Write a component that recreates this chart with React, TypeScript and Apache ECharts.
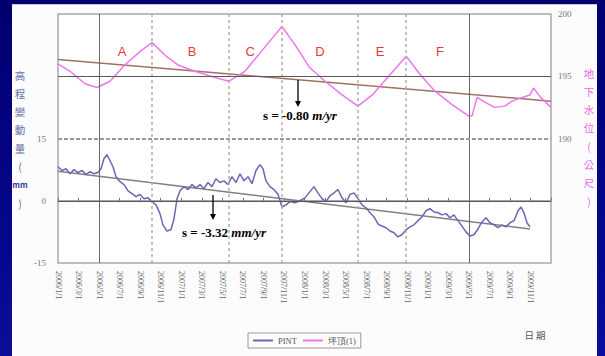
import React, { useEffect, useRef } from 'react';
import * as echarts from 'echarts';

const xLabels = [
  '2006/1/1', '2006/3/1', '2006/5/1', '2006/7/1', '2006/9/1', '2006/11/1',
  '2007/1/1', '2007/3/1', '2007/5/1', '2007/7/1', '2007/9/1', '2007/11/1',
  '2008/1/1', '2008/3/1', '2008/5/1', '2008/7/1', '2008/9/1', '2008/11/1',
  '2009/1/1', '2009/3/1', '2009/5/1', '2009/7/1', '2009/9/1', '2009/11/1',
];

// x = months since 2006/1
const pintData: [number, number][] = [
  [0, 8.2], [0.39, 7.3], [0.78, 7.7], [1.17, 6.5], [1.56, 7.5], [1.95, 6.8], [2.34, 7.3], [2.73, 6.3],
  [3.12, 7.0], [3.5, 6.5], [3.89, 6.8], [4.19, 7.7], [4.48, 10.2], [4.77, 11.1], [5.06, 9.7], [5.35, 8.2],
  [5.65, 5.8], [6.04, 4.6], [6.43, 3.9], [6.82, 2.4], [7.2, 1.7], [7.59, 1.0], [7.98, 1.5], [8.37, 0.5],
  [8.76, 0.7], [9.15, -0.2], [9.54, -1.0], [9.93, -3.1], [10.22, -5.8], [10.61, -7.3], [11.0, -7.0], [11.29, -4.4],
  [11.59, 0.5], [11.88, 2.4], [12.27, 3.4], [12.66, 2.7], [13.05, 3.9], [13.44, 3.1], [13.83, 3.9], [14.21, 2.9],
  [14.6, 4.4], [14.99, 3.4], [15.38, 5.3], [15.77, 4.4], [16.16, 4.8], [16.55, 3.9], [16.94, 5.8], [17.33, 4.4],
  [17.72, 6.5], [18.11, 4.8], [18.5, 5.8], [18.89, 4.1], [19.28, 7.3], [19.67, 8.7], [19.96, 7.7], [20.25, 4.8],
  [20.64, 3.4], [21.03, 2.7], [21.42, 1.5], [21.81, -1.5], [22.2, -1.0], [22.59, -0.2], [23.07, -0.5], [23.56, 0],
  [24.05, 0.7], [24.53, 2.2], [24.92, 3.4], [25.31, 1.9], [25.7, 0.5], [26.09, -0.2], [26.48, 1.2], [26.87, 1.9],
  [27.26, 2.7], [27.65, 0.7], [28.04, -0.5], [28.43, 1.5], [28.82, 1.9], [29.21, 0.5], [29.6, -1.0], [29.99, -1.7],
  [30.38, -2.9], [30.77, -3.9], [31.16, -5.6], [31.54, -6.1], [31.93, -6.5], [32.32, -7.3], [32.71, -7.7], [33.1, -8.7],
  [33.49, -8.2], [33.88, -7.0], [34.27, -6.3], [34.66, -5.8], [35.05, -4.8], [35.44, -3.9], [35.83, -2.4], [36.22, -1.9],
  [36.61, -2.7], [37.0, -2.9], [37.39, -3.4], [37.78, -3.1], [38.17, -4.1], [38.55, -3.4], [38.94, -4.8], [39.33, -6.1],
  [39.72, -7.5], [40.11, -8.5], [40.5, -8.2], [40.89, -6.8], [41.28, -5.1], [41.67, -4.1], [42.06, -5.3], [42.45, -5.8],
  [42.84, -6.5], [43.23, -5.8], [43.62, -6.3], [44.01, -5.3], [44.4, -4.8], [44.79, -2.4], [45.08, -1.5], [45.37, -2.9],
  [45.66, -5.3], [45.95, -6.3],
];

const waterData: [number, number][] = [
  [0, 196.0], [1.17, 195.4], [2.63, 194.4], [3.8, 194.1], [5.06, 194.6], [6.5, 195.9], [8.0, 197.0], [9.15, 197.7],
  [10.4, 196.7], [11.7, 195.9], [13.3, 195.4], [15.3, 194.9], [16.65, 194.6], [18.2, 195.4], [19.9, 197.1], [21.8, 199.0],
  [23.1, 197.5], [24.5, 195.7], [26.0, 194.6], [27.5, 193.6], [29.2, 192.6], [30.6, 193.5], [32.3, 195.1], [33.9, 196.6],
  [35.2, 195.2], [36.7, 193.8], [38.4, 192.7], [40.0, 191.8], [40.3, 191.8], [40.8, 193.3], [41.6, 192.9], [42.5, 192.5],
  [43.5, 192.6], [44.2, 193.0], [45.2, 193.3], [45.95, 193.5], [46.3, 194.05], [46.9, 193.4], [47.5, 192.9], [48.0, 192.5],
];

const pintTrend: [number, number][] = [[0, 7.1], [45.95, -6.8]];
const waterTrend: [number, number][] = [[0, 196.35], [48, 193.0]];

const solidVLines = [4, 40];
const dashedVLines = [9.15, 16.6, 21.8, 29.2, 33.9];
const zoneNames = ['A', 'B', 'C', 'D', 'E', 'F'];
const zoneX = [6.23, 13.05, 18.7, 25.5, 31.35, 37.2];
const zoneY = 197.0;

const leftTitle = ['高', '程', '變', '動', '量', '(', 'mm', ')'];
const rightTitle = ['地', '下', '水', '位', '(', '公', '尺', ')'];

export default function App() {
  const ref = useRef<HTMLDivElement>(null);
  useEffect(() => {
    if (!ref.current) return;
    const chart = echarts.init(ref.current, undefined, { renderer: 'svg' });
    const serif = "'Liberation Serif', 'DejaVu Serif', serif";
    const cjk = "'Noto Sans CJK TC', 'Noto Sans CJK SC', sans-serif";

    const graphic: any[] = [];
    leftTitle.forEach((c, i) => {
      graphic.push({
        type: 'text', x: 20, y: 75 + i * 18.3,
        style: {
          text: c, fontSize: c === 'mm' ? 8 : 10.5, fontFamily: cjk,
          fill: c === 'mm' ? '#3a3aa8' : '#6570aa', fontWeight: c === 'mm' ? 'bold' : 'normal',
          align: 'center', verticalAlign: 'middle',
        },
      });
    });
    rightTitle.forEach((c, i) => {
      graphic.push({
        type: 'text', x: 589, y: 73 + i * 18.3,
        style: {
          text: c, fontSize: 10.5, fontFamily: cjk, fill: '#ee66ee',
          align: 'center', verticalAlign: 'middle',
        },
      });
    });
    graphic.push({
      type: 'text', x: 535, y: 335,
      style: { text: '日 期', fontSize: 9.5, fontFamily: cjk, fill: '#555', align: 'center', verticalAlign: 'middle' },
    });
    const ann = (x: number, y: number, a: string, b: string) => ({
      type: 'text', x, y,
      style: {
        text: `{a|${a}}{b|${b}}`, align: 'center', verticalAlign: 'middle',
        rich: {
          a: { fontSize: 13, fontWeight: 'bold', fontFamily: serif, fill: '#000', color: '#000' },
          b: { fontSize: 13, fontWeight: 'bold', fontStyle: 'italic', fontFamily: serif, fill: '#000', color: '#000' },
        },
      },
      z: 100,
    });
    graphic.push(ann(300, 115, 's = -0.80 ', 'm/yr'));
    graphic.push(ann(224, 232, 's = -3.32 ', 'mm/yr'));
    const arrow = (x: number, y1: number, y2: number) => [
      { type: 'line', shape: { x1: x, y1, x2: x, y2: y2 - 5 }, style: { stroke: '#000', lineWidth: 1.3 }, z: 100 },
      { type: 'polygon', shape: { points: [[x - 3, y2 - 6], [x + 3, y2 - 6], [x, y2]] }, style: { fill: '#000' }, z: 100 },
    ];
    graphic.push(...arrow(298, 80, 107));
    graphic.push(...arrow(213, 195, 220));

    const vLineData = [
      ...solidVLines.map((v) => ({ xAxis: v, lineStyle: { color: '#6a6a6a', type: 'solid', width: 1 } })),
      ...dashedVLines.map((v) => ({ xAxis: v, lineStyle: { color: '#b0b0b0', type: [3, 3], width: 1.5 } })),
      { yAxis: 0, lineStyle: { color: '#5a5a5a', type: 'solid', width: 1 } },
      { yAxis: 30, lineStyle: { color: '#5a5a5a', type: 'solid', width: 1 } },
      { yAxis: 15, lineStyle: { color: '#9a9a9a', type: [4, 2], width: 2 } },
    ];

    chart.setOption({
      animation: false,
      backgroundColor: 'transparent',
      grid: {
        left: 58, top: 14, right: 54, bottom: 93,
        show: true, borderColor: '#a8a8a8', borderWidth: 1.5, backgroundColor: '#ffffff',
      },
      legend: {
        data: ['PINT', '坪頂(1)'],
        left: 248, top: 333, padding: [3, 5], itemGap: 6,
        itemWidth: 20, itemHeight: 2, icon: 'rect',
        borderColor: '#999', borderWidth: 1,
        textStyle: { fontSize: 8.5, color: '#555', fontFamily: serif },
      },
      xAxis: {
        type: 'value', min: 0, max: 48, interval: 2,
        axisLine: { show: true, lineStyle: { color: '#a8a8a8', width: 2 } },
        axisTick: { show: true, inside: true, length: 3, lineStyle: { color: '#777' } },
        splitLine: { show: false },
        axisLabel: {
          rotate: -90, fontSize: 8, color: '#666', fontFamily: serif, margin: 8,
          formatter: (v: number) => xLabels[Math.round(v / 2)] ?? '',
        },
      },
      yAxis: [
        {
          type: 'value', min: -15, max: 45, interval: 15, position: 'left',
          axisLine: { show: false }, axisTick: { show: false }, splitLine: { show: false },
          axisLabel: {
            fontSize: 9, color: '#777', fontFamily: serif, margin: 12,
            formatter: (v: number) => (v <= 15 ? String(v) : ''),
          },
        },
        {
          type: 'value', min: 180, max: 200, interval: 5, position: 'right',
          axisLine: { show: false }, axisTick: { show: false }, splitLine: { show: false },
          axisLabel: {
            fontSize: 9, color: '#777', fontFamily: serif, margin: 7,
            formatter: (v: number) => (v >= 190 ? String(v) : ''),
          },
        },
      ],
      series: [
        {
          name: 'guides', type: 'line', data: [], yAxisIndex: 0, silent: true,
          markLine: { silent: true, symbol: 'none', label: { show: false }, data: vLineData },
        },
        {
          name: 'waterTrend', type: 'line', yAxisIndex: 1, data: waterTrend, showSymbol: false, symbol: 'none',
          lineStyle: { color: '#a07062', width: 1.5 }, z: 3,
          markPoint: {
            symbol: 'circle', symbolSize: 0,
            label: { show: true, formatter: '{b}', color: '#e8383a', fontSize: 13, fontFamily: "'Liberation Sans', Arial, sans-serif" },
            data: zoneNames.map((n, i) => ({ name: n, coord: [zoneX[i], zoneY] })),
          },
        },
        {
          name: 'pintTrend', type: 'line', yAxisIndex: 0, data: pintTrend, showSymbol: false, symbol: 'none',
          lineStyle: { color: '#808080', width: 1.5 }, z: 3,
        },
        {
          name: '坪頂(1)', type: 'line', yAxisIndex: 1, data: waterData, showSymbol: false, symbol: 'none',
          color: '#ee77ee', lineStyle: { color: '#ee77ee', width: 1.5 }, z: 4,
        },
        {
          name: 'PINT', type: 'line', yAxisIndex: 0, data: pintData, showSymbol: false, symbol: 'none',
          color: '#6868b4', lineStyle: { color: '#6868b4', width: 1.5 }, z: 4,
        },
      ],
      graphic,
    });
    return () => chart.dispose();
  }, []);

  return (
    <div style={{ position: 'fixed', left: 0, top: 0, width: 605, height: 356, background: 'linear-gradient(180deg, #00006e 0%, #06068a 60%, #0c0c98 100%)' }}>
      <div style={{ position: 'absolute', left: 12, top: 4, width: 585, height: 352, background: '#fcfcfc', borderTop: '1px solid #ccc' }} />
      <div ref={ref} style={{ position: 'absolute', left: 0, top: 0, width: 605, height: 356 }} />
    </div>
  );
}
